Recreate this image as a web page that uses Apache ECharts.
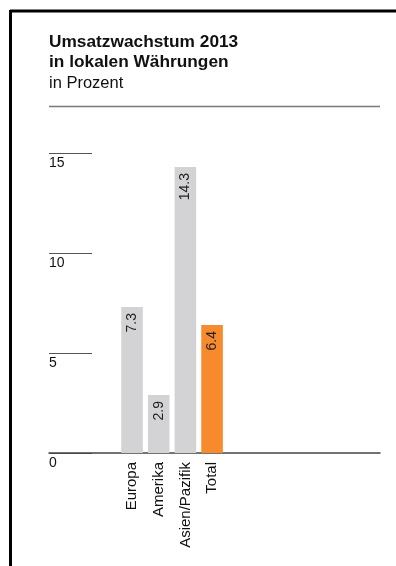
<!DOCTYPE html>
<html>
<head>
<meta charset="utf-8">
<script src="https://cdn.jsdelivr.net/npm/echarts@6/dist/echarts.min.js"></script>
<style>
html,body{margin:0;padding:0;background:#fff;}
#c{width:396px;height:566px;}
</style>
</head>
<body>
<div id="c"></div>
<script>
const titleLines = ['Umsatzwachstum 2013', 'in lokalen Währungen'];
const subtitle = 'in Prozent';
const categories = ['Europa', 'Amerika', 'Asien/Pazifik', 'Total'];
const values = [7.3, 2.9, 14.3, 6.4];
const highlight = ['Total'];
const yMin = 0, yMax = 15, yStep = 5;

const GRAY = '#d3d3d5';
const ORANGE = '#f68a2c';
const FONT = 'Liberation Sans, Arial, sans-serif';

const chart = echarts.init(document.getElementById('c'), null, {renderer: 'canvas'});
const gridTop = 153, gridH = 300;
chart.setOption({
  backgroundColor: '#fff',
  animation: false,
  title: {
    text: titleLines.join('\n'),
    subtext: subtitle,
    left: 49, top: 32,
    padding: 0,
    itemGap: 2,
    textStyle: {fontFamily: FONT, fontSize: 17.3, fontWeight: 'bold', color: '#111', lineHeight: 20},
    subtextStyle: {fontFamily: FONT, fontSize: 16.5, color: '#111', lineHeight: 18}
  },
  graphic: [
    {type: 'line', shape: {x1: 10, y1: 11, x2: 396, y2: 11}, style: {stroke: '#000', lineWidth: 3}},
    {type: 'line', shape: {x1: 10.5, y1: 10, x2: 10.5, y2: 566}, style: {stroke: '#000', lineWidth: 3}},
    {type: 'line', shape: {x1: 49, y1: 106.5, x2: 380, y2: 106.5}, style: {stroke: '#7a7a7a', lineWidth: 1.5}}
  ],
  grid: [
    {left: 49, width: 43, top: gridTop, height: gridH},
    {left: 49, width: 331, top: gridTop, height: gridH},
    {left: 118.7, width: 106.7, top: gridTop, height: gridH}
  ],
  xAxis: [
    {gridIndex: 0, type: 'value', show: false},
    {gridIndex: 1, type: 'value', axisLabel: {show: false}, axisTick: {show: false}, splitLine: {show: false},
     axisLine: {show: true, onZero: false, lineStyle: {color: '#444', width: 1.5}}},
    {gridIndex: 2, type: 'category', data: categories, axisLine: {show: false}, axisTick: {show: false},
     axisLabel: {rotate: 90, margin: 9, fontFamily: FONT, fontSize: 15, color: '#111', interval: 0}}
  ],
  yAxis: [
    {gridIndex: 0, type: 'value', min: yMin, max: yMax, interval: yStep,
     axisLine: {show: false}, axisTick: {show: false},
     splitLine: {show: true, lineStyle: {color: '#555', width: 1}},
     axisLabel: {inside: true, margin: 0, align: 'left', verticalAlign: 'top', padding: [3, 0, 0, 0],
                 fontFamily: FONT, fontSize: 14, color: '#111'}},
    {gridIndex: 1, type: 'value', min: yMin, max: yMax, show: false},
    {gridIndex: 2, type: 'value', min: yMin, max: yMax, show: false}
  ],
  series: [{
    type: 'bar', xAxisIndex: 2, yAxisIndex: 2,
    barWidth: '81%',
    data: values.map((v, i) => ({value: v, itemStyle: {color: highlight.includes(categories[i]) ? ORANGE : GRAY}})),
    label: {show: true, position: 'insideTop', distance: 6, rotate: 90, align: 'right', verticalAlign: 'middle',
            formatter: p => p.value.toFixed(1), fontFamily: FONT, fontSize: 14, color: '#222'}
  }]
});
</script>
</body>
</html>
